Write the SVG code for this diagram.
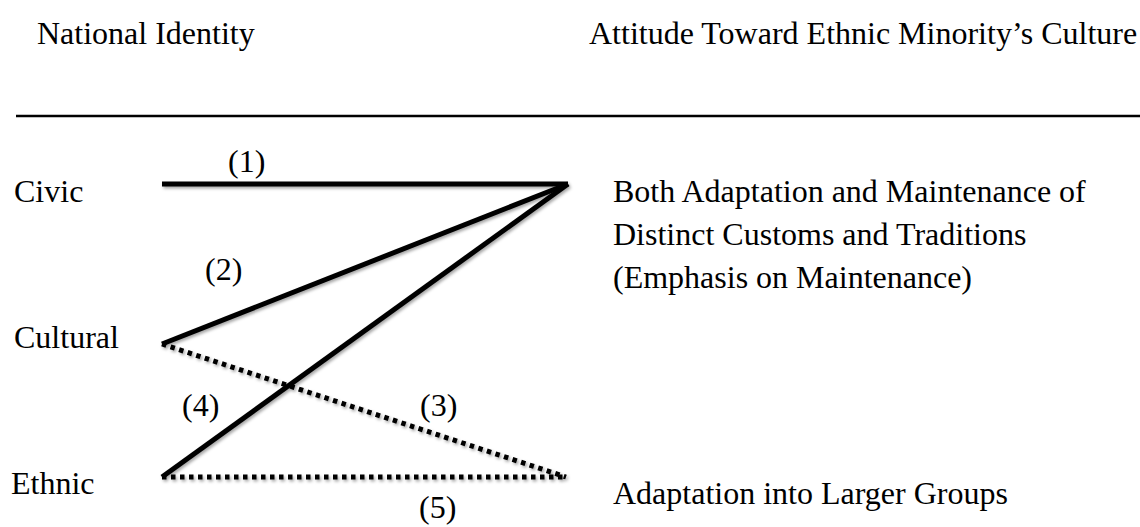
<svg xmlns="http://www.w3.org/2000/svg" width="1140" height="527" viewBox="0 0 1140 527">
<style>
  text { font-family: "Liberation Serif", "Times New Roman", serif; font-size: 32px; fill: #000; }
  .solid { stroke: #000; stroke-width: 5; fill: none; stroke-linecap: butt; }
  .dot { stroke: #000; stroke-width: 5; fill: none; stroke-dasharray: 4.5 4.5; }
</style>
<defs>
  <filter id="sh" x="-5%" y="-20%" width="110%" height="140%">
    <feDropShadow dx="1.5" dy="2" stdDeviation="1.5" flood-color="#000" flood-opacity="0.35"/>
  </filter>
</defs>
<rect width="1140" height="527" fill="#fff"/>
<g id="headers">
  <text x="37" y="44">National Identity</text>
  <text x="589" y="44">Attitude Toward Ethnic Minority’s Culture</text>
  <line x1="16" y1="116" x2="1140" y2="116" stroke="#000" stroke-width="2.5"/>
</g>
<g id="node-civic"><text x="14" y="202">Civic</text></g>
<g id="node-cultural"><text x="14" y="348">Cultural</text></g>
<g id="node-ethnic"><text x="11" y="494">Ethnic</text></g>
<g id="node-both">
  <text x="613" y="202">Both Adaptation and Maintenance of</text>
  <text x="613" y="245">Distinct Customs and Traditions</text>
  <text x="613" y="288">(Emphasis on Maintenance)</text>
</g>
<g id="node-adaptation"><text x="613" y="504">Adaptation into Larger Groups</text></g>
<g id="connectors" filter="url(#sh)">
  <line class="solid" x1="162" y1="184" x2="568" y2="184"/>
  <line class="solid" x1="162" y1="344" x2="568" y2="184"/>
  <line class="solid" x1="162" y1="477" x2="568" y2="184"/>
  <line class="dot" x1="162" y1="344" x2="566" y2="477"/>
  <line class="dot" x1="162" y1="477" x2="566" y2="477"/>
</g>
<g id="labels">
  <text x="228" y="172">(1)</text>
  <text x="205" y="280">(2)</text>
  <text x="420" y="416">(3)</text>
  <text x="182" y="416">(4)</text>
  <text x="419" y="518">(5)</text>
</g>
</svg>
